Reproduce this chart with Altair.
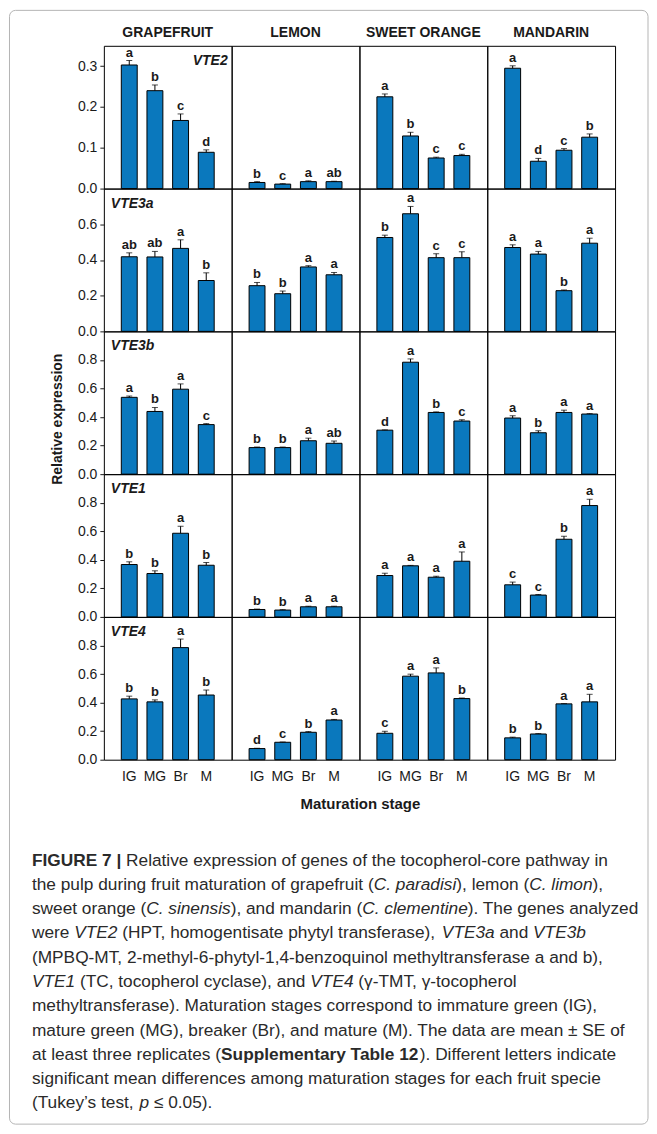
import altair as alt
import pandas as pd

stages = ["IG", "MG", "Br", "M"]
fruits = ["GRAPEFRUIT", "LEMON", "SWEET ORANGE", "MANDARIN"]
genes = ["VTE2", "VTE3a", "VTE3b", "VTE1", "VTE4"]

# order inside each list: grapefruit(IG,MG,Br,M), lemon, sweet orange, mandarin
vte2_mean = [0.303, 0.240, 0.167, 0.089, 0.015, 0.011, 0.017, 0.017,
             0.225, 0.129, 0.075, 0.081, 0.295, 0.067, 0.094, 0.126]
vte2_se = [0.011, 0.014, 0.016, 0.006, 0.002, 0.001, 0.002, 0.001,
           0.007, 0.009, 0.002, 0.003, 0.006, 0.007, 0.004, 0.008]
vte2_let = ["a", "b", "c", "d", "b", "c", "a", "ab",
            "a", "b", "c", "c", "a", "d", "c", "b"]

vte3a_mean = [0.418, 0.417, 0.465, 0.285, 0.256, 0.211, 0.361, 0.317,
              0.526, 0.659, 0.413, 0.413, 0.470, 0.433, 0.228, 0.494]
vte3a_se = [0.022, 0.031, 0.048, 0.043, 0.018, 0.015, 0.007, 0.013,
            0.013, 0.041, 0.022, 0.033, 0.015, 0.015, 0.004, 0.028]
vte3a_let = ["ab", "ab", "a", "b", "b", "b", "a", "a",
             "b", "a", "c", "c", "a", "a", "b", "a"]

vte3b_mean = [0.538, 0.439, 0.595, 0.347, 0.186, 0.186, 0.234, 0.216,
              0.308, 0.784, 0.432, 0.372, 0.393, 0.290, 0.432, 0.421]
vte3b_se = [0.009, 0.028, 0.037, 0.007, 0.004, 0.004, 0.018, 0.016,
            0.002, 0.023, 0.004, 0.009, 0.016, 0.014, 0.016, 0.003]
vte3b_let = ["a", "b", "a", "c", "b", "b", "a", "ab",
             "d", "a", "b", "c", "a", "b", "a", "a"]

vte1_mean = [0.367, 0.304, 0.586, 0.362, 0.052, 0.048, 0.071, 0.071,
             0.290, 0.358, 0.278, 0.390, 0.225, 0.153, 0.544, 0.780]
vte1_se = [0.019, 0.019, 0.049, 0.019, 0.003, 0.003, 0.004, 0.004,
           0.016, 0.003, 0.007, 0.065, 0.019, 0.004, 0.021, 0.044]
vte1_let = ["b", "b", "a", "b", "b", "b", "a", "a",
            "a", "a", "a", "a", "c", "c", "b", "a"]

vte4_mean = [0.426, 0.405, 0.785, 0.453, 0.078, 0.122, 0.192, 0.278,
             0.185, 0.585, 0.608, 0.428, 0.153, 0.180, 0.391, 0.405]
vte4_se = [0.019, 0.014, 0.060, 0.035, 0.002, 0.002, 0.005, 0.004,
           0.014, 0.014, 0.035, 0.004, 0.005, 0.003, 0.002, 0.053]
vte4_let = ["b", "b", "a", "b", "d", "c", "b", "a",
            "c", "a", "a", "b", "b", "b", "a", "a"]

means = {"VTE2": vte2_mean, "VTE3a": vte3a_mean, "VTE3b": vte3b_mean, "VTE1": vte1_mean, "VTE4": vte4_mean}
ses = {"VTE2": vte2_se, "VTE3a": vte3a_se, "VTE3b": vte3b_se, "VTE1": vte1_se, "VTE4": vte4_se}
lets = {"VTE2": vte2_let, "VTE3a": vte3a_let, "VTE3b": vte3b_let, "VTE1": vte1_let, "VTE4": vte4_let}

y_max = {"VTE2": 0.35, "VTE3a": 0.8, "VTE3b": 1.0, "VTE1": 1.0, "VTE4": 1.0}
y_ticks = {"VTE2": [0, 0.1, 0.2, 0.3], "VTE3a": [0, 0.2, 0.4, 0.6],
           "VTE3b": [0, 0.2, 0.4, 0.6, 0.8], "VTE1": [0, 0.2, 0.4, 0.6, 0.8],
           "VTE4": [0, 0.2, 0.4, 0.6, 0.8]}

y_title = "Relative expression"
x_title = "Maturation stage"

caption = [
    [("FIGURE 7 |", "b"), (" Relative expression of genes of the tocopherol-core pathway in", "r")],
    [("the pulp during fruit maturation of grapefruit (", "r"), ("C. paradisi", "i"), ("), lemon (", "r"), ("C. limon", "i"), ("),", "r")],
    [("sweet orange (", "r"), ("C. sinensis", "i"), ("), and mandarin (", "r"), ("C. clementine", "i"), ("). The genes analyzed", "r")],
    [("were ", "r"), ("VTE2", "i"), (" (HPT, homogentisate phytyl transferase), ", "r"), ("VTE3a", "i"), (" and ", "r"), ("VTE3b", "i")],
    [("(MPBQ-MT, 2-methyl-6-phytyl-1,4-benzoquinol methyltransferase a and b),", "r")],
    [("VTE1", "i"), (" (TC, tocopherol cyclase), and ", "r"), ("VTE4", "i"), (" (\u03b3-TMT, \u03b3-tocopherol", "r")],
    [("methyltransferase). Maturation stages correspond to immature green (IG),", "r")],
    [("mature green (MG), breaker (Br), and mature (M). The data are mean \u00b1 SE of", "r")],
    [("at least three replicates (", "r"), ("Supplementary Table 12", "b"), ("). Different letters indicate", "r")],
    [("significant mean differences among maturation stages for each fruit specie", "r")],
    [("(Tukey\u2019s test, ", "r"), ("p", "i"), (" \u2264 0.05).", "r")],
]

# ---- text width tables (Arial / Liberation Sans metrics, per 1000 em) ----
REG_W = {}
for chars, w in [("'", 191), ("ijl\u2019", 222), ("|", 260), (" !,./:;I[\\]ft", 278), ("()-`r", 333),
                 ("{}", 334), ('"', 355), ("*", 389), ("^", 469), ("Jcksvxyz\u03b3", 500), ("\u2264", 549),
                 ("#$0123456789?L_abdeghnopqu", 556), ("+<=>~\u00b1", 584), ("FTZ", 611),
                 ("&ABEKPSVXY", 667), ("CDHNRUw", 722), ("GOQ", 778), ("Mm", 833), ("%", 889),
                 ("W", 944), ("@", 1015)]:
    for ch in chars:
        REG_W[ch] = w
BOLD_W = {}
for chars, w in [("'", 238), (" ,./:;I[\\]ijl", 278), ("|", 280), ("!()-`ft", 333), ("r*", 389),
                 ('"', 474), ("z", 500), ("#$0123456789Jackesvxy_", 556), ("+<=>~\u00b1", 584),
                 ("?FLTZbdghnopqu", 611), ("EPSVXY", 667), ("&ABCDHKNRU", 722), ("GOQw", 778),
                 ("M", 833), ("%m", 889), ("W", 944), ("@", 975)]:
    for ch in chars:
        BOLD_W[ch] = w

CAP_SIZE = 17.3
CAP_X0 = -72
CAP_Y0 = 244
CAP_LH = 24.33


def text_w(s, style):
    tab = BOLD_W if style == "b" else REG_W
    return sum(tab.get(ch, 556) for ch in s) * CAP_SIZE / 1000.0


seg_rows = []
for li, segs in enumerate(caption):
    xpos = CAP_X0
    for txt, st in segs:
        lead = len(txt) - len(txt.lstrip(" "))
        seg_rows.append({"px": xpos + text_w(" " * lead, st), "py": CAP_Y0 + li * CAP_LH,
                         "t": txt.strip(" "), "s": st})
        xpos += text_w(txt, st)
cap_df = pd.DataFrame(seg_rows)

FONT = "Liberation Sans"
BAR = "#0a78bd"
INK = "#1a1a1a"
W, H = 128, 143


def one_text(txt, x, y, **kw):
    return alt.Chart(pd.DataFrame({"t": [txt]})).mark_text(font=FONT, color=INK, **kw).encode(
        x=alt.value(x), y=alt.value(y), text="t:N")


panels = []
for r, g in enumerate(genes):
    for c, f in enumerate(fruits):
        sl = slice(4 * c, 4 * c + 4)
        df = pd.DataFrame({"stage": stages, "mean": means[g][sl], "se": ses[g][sl], "letter": lets[g][sl]})
        df["top"] = df["mean"] + df["se"]

        xaxis = alt.Axis(labelAngle=0, labelFontSize=14, labelFont=FONT, labelColor=INK, domain=False,
                         ticks=False, labelPadding=10, title=None) if r == len(genes) - 1 else None
        yaxis = alt.Axis(values=y_ticks[g], format=".1f", labelFontSize=14, labelFont=FONT, labelColor=INK,
                         labelOverlap=False, labelFlush=False, domain=False, grid=False, tickSize=4,
                         tickColor=INK, labelPadding=3, title=None) if c == 0 else None
        xscale = alt.Scale(domain=stages, paddingInner=0.38, paddingOuter=0.68)
        yscale = alt.Scale(domain=[0, y_max[g]], nice=False, zero=True)

        def X():
            return alt.X("stage:N", sort=stages, title=None, scale=xscale, axis=xaxis)

        def Y(field):
            return alt.Y(field, type="quantitative", title=None, scale=yscale, axis=yaxis)

        base = alt.Chart(df)
        bars = base.mark_bar(color=BAR, stroke="black", strokeWidth=1).encode(x=X(), y=Y("mean"))
        err = base.mark_rule(color="black", strokeWidth=1).encode(x=X(), y=Y("mean"), y2="top:Q")
        cap = base.mark_tick(color="black", size=6, thickness=1).encode(x=X(), y=Y("top"))
        labs = base.mark_text(font=FONT, fontSize=13, fontWeight="bold", color=INK, dy=-4,
                              baseline="alphabetic").encode(x=X(), y=Y("top"), text="letter:N")
        layers = [bars, err, cap, labs]

        if r == 0:
            layers.append(one_text(f, W / 2, -13, fontSize=14, fontWeight="bold",
                                   align="center", baseline="middle"))
        if c == 0:
            if g == "VTE2":
                layers.append(one_text(g, 124, 15, fontSize=14, fontWeight="bold", fontStyle="italic",
                                       align="right", baseline="middle"))
            else:
                layers.append(one_text(g, 7, 15, fontSize=14, fontWeight="bold", fontStyle="italic",
                                       align="left", baseline="middle"))
        if r == 2 and c == 0:
            layers.append(one_text(y_title, -46, 88, fontSize=14, fontWeight="bold", angle=270,
                                   align="center", baseline="middle"))
        if r == len(genes) - 1 and c == 0:
            layers.append(one_text(x_title, 257, 187, fontSize=15, fontWeight="bold",
                                   align="center", baseline="middle"))
            for st, kw in [("r", {}), ("b", {"fontWeight": "bold"}), ("i", {"fontStyle": "italic"})]:
                layers.append(
                    alt.Chart(cap_df).transform_filter(alt.datum.s == st).mark_text(
                        font=FONT, fontSize=CAP_SIZE, color="#2a2a2a", align="left", baseline="middle", **kw
                    ).encode(x=alt.X("px:Q", scale=None, axis=None),
                             y=alt.Y("py:Q", scale=None, axis=None), text="t:N"))
            frame = alt.Chart(pd.DataFrame({"k": [0]})).mark_rect(
                fillOpacity=0, stroke="#b5b5b5", strokeWidth=1, cornerRadius=6
            ).encode(x=alt.value(-94.5), x2=alt.value(545), y=alt.value(-607.5), y2=alt.value(508))
            layers.append(frame)

        panels.append(alt.layer(*layers).properties(width=W, height=H))

chart = alt.concat(*panels, columns=4, spacing=0, bounds="flush").properties(
    padding=0, background="white"
).configure_view(stroke="black", strokeWidth=1)

chart.save("out.html", embed_options={"renderer": "svg", "actions": False})
